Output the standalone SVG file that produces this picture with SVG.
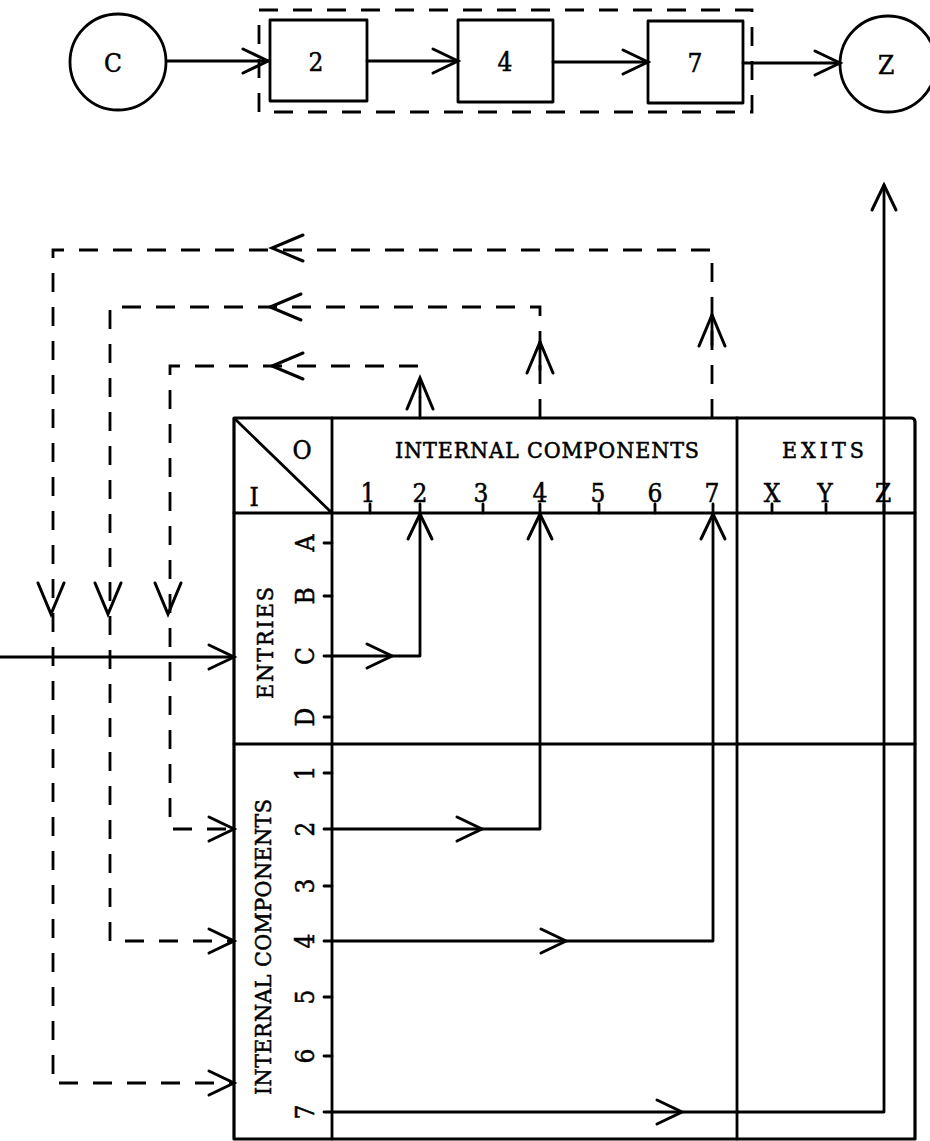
<svg xmlns="http://www.w3.org/2000/svg" xmlns:xlink="http://www.w3.org/1999/xlink" width="930" height="1141" viewBox="0 0 930 1141">
<style>
  .ln{fill:none;stroke:#000;stroke-width:2.8;stroke-linecap:round;stroke-linejoin:round}
  .thick{fill:none;stroke:#000;stroke-width:3.2;stroke-linejoin:round}
  .dash{fill:none;stroke:#000;stroke-width:2.8;stroke-dasharray:19 15}
  .head{fill:none;stroke:#000;stroke-width:3;stroke-linecap:round;stroke-linejoin:miter}
  .t{font-family:"DejaVu Serif Condensed","DejaVu Serif","Liberation Serif",serif;font-stretch:condensed;font-size:26px;fill:#000;stroke:#000;stroke-width:0.5;text-anchor:middle}
  .lbl{font-size:23px}
</style>
<defs>
  <path id="ah" d="M-25,-12 L0,0 L-25,12"/>
  <path id="ahL" d="M-31,-13 L0,0 L-31,13"/>
</defs>
<rect width="930" height="1141" fill="#fff"/>

<!-- top row -->
<g id="nodeC"><circle class="ln" cx="118" cy="62" r="48"/><text class="t" x="113" y="72">C</text></g>
<g id="group"><rect class="dash" x="259" y="10" width="493" height="102"/></g>
<g id="node2"><rect class="ln" x="270" y="20" width="97" height="81"/><text class="t" x="316" y="71">2</text></g>
<g id="node4"><rect class="ln" x="458" y="20" width="95" height="82"/><text class="t" x="505" y="71">4</text></g>
<g id="node7"><rect class="ln" x="648" y="21" width="95" height="82"/><text class="t" x="695" y="72">7</text></g>
<g id="nodeZ"><circle class="ln" cx="888" cy="64" r="48"/><text class="t" x="886" y="74">Z</text></g>

<g id="top-connectors">
  <path class="ln" d="M167,61 H268"/>
  <use href="#ah" class="head" transform="translate(268,61)"/>
  <path class="ln" d="M367,61 H458"/>
  <use href="#ah" class="head" transform="translate(458,61)"/>
  <path class="ln" d="M553,62 H648"/>
  <use href="#ah" class="head" transform="translate(648,62)"/>
  <path class="ln" d="M743,63 H840"/>
  <use href="#ah" class="head" transform="translate(840,63)"/>
</g>

<!-- matrix table -->
<g id="table">
  <path class="thick" d="M234,418 H911 Q915,418 915,422 V1139 H234 Z"/>
  <path class="ln" d="M332,418 V1139 M737,418 V1139 M234,513 H915 M234,744 H915 M236,420 L332,513"/>
  <!-- column ticks -->
  <path class="ln" d="M370,504 V513 M420,504 V513 M483,504 V513 M540,504 V513 M599,504 V513 M655,504 V513 M713,504 V513 M772,504 V513 M826,504 V513 M884,504 V513"/>
  <!-- row ticks -->
  <path class="ln" d="M324,543 H332 M324,596 H332 M324,656 H332 M324,717 H332 M324,773 H332 M324,829 H332 M324,886 H332 M324,941 H332 M324,997 H332 M324,1056 H332 M324,1112 H332"/>
  <text class="t" x="302" y="459">O</text>
  <text class="t" x="254" y="506">I</text>
  <text class="t lbl" x="547" y="458" textLength="304" lengthAdjust="spacing">INTERNAL COMPONENTS</text>
  <text class="t lbl" x="823" y="458" textLength="82" lengthAdjust="spacing">EXITS</text>
  <text class="t" x="368" y="502">1</text>
  <text class="t" x="420" y="502">2</text>
  <text class="t" x="481" y="502">3</text>
  <text class="t" x="540" y="502">4</text>
  <text class="t" x="598" y="502">5</text>
  <text class="t" x="655" y="502">6</text>
  <text class="t" x="712" y="502">7</text>
  <text class="t" x="772" y="502">X</text>
  <text class="t" x="825" y="502">Y</text>
  <text class="t" x="883" y="502">Z</text>
  <text class="t" transform="translate(305,543) rotate(-90)" dy="0.35em">A</text>
  <text class="t" transform="translate(305,596) rotate(-90)" dy="0.35em">B</text>
  <text class="t" transform="translate(305,656) rotate(-90)" dy="0.35em">C</text>
  <text class="t" transform="translate(305,717) rotate(-90)" dy="0.35em">D</text>
  <text class="t" transform="translate(305,773) rotate(-90)" dy="0.35em">1</text>
  <text class="t" transform="translate(305,829) rotate(-90)" dy="0.35em">2</text>
  <text class="t" transform="translate(305,886) rotate(-90)" dy="0.35em">3</text>
  <text class="t" transform="translate(305,941) rotate(-90)" dy="0.35em">4</text>
  <text class="t" transform="translate(305,997) rotate(-90)" dy="0.35em">5</text>
  <text class="t" transform="translate(305,1056) rotate(-90)" dy="0.35em">6</text>
  <text class="t" transform="translate(305,1112) rotate(-90)" dy="0.35em">7</text>
  <text class="t lbl" transform="translate(265,643) rotate(-90)" dy="0.35em" textLength="112" lengthAdjust="spacing">ENTRIES</text>
  <text class="t lbl" transform="translate(263,947) rotate(-90)" dy="0.35em" textLength="296" lengthAdjust="spacing">INTERNAL COMPONENTS</text>
</g>

<g id="connectors">
  <!-- solid internal paths -->
  <path class="ln" d="M332,656 H420 V513"/>
  <use href="#ah" class="head" transform="translate(392,656)"/>
  <use href="#ah" class="head" transform="translate(420,514) rotate(-90)"/>
  <path class="ln" d="M332,829 H540 V513"/>
  <use href="#ah" class="head" transform="translate(482,829)"/>
  <use href="#ah" class="head" transform="translate(540,514) rotate(-90)"/>
  <path class="ln" d="M332,941 H713 V513"/>
  <use href="#ah" class="head" transform="translate(566,941)"/>
  <use href="#ah" class="head" transform="translate(713,514) rotate(-90)"/>
  <path class="ln" d="M332,1112 H884 V185"/>
  <use href="#ah" class="head" transform="translate(682,1112)"/>
  <use href="#ah" class="head" transform="translate(884,185) rotate(-90)"/>
  <!-- entry C from outside -->
  <path class="ln" d="M0,657 H234"/>
  <use href="#ah" class="head" transform="translate(234,657)"/>

  <!-- feedback loops (dashed) -->
  <path class="ln" d="M420,418 V398"/>
  <path class="dash" d="M420,398 V366 H170 V829 H234"/>
  <use href="#ahL" class="head" transform="translate(420,378) rotate(-90)"/>
  <use href="#ahL" class="head" transform="translate(272,366) rotate(180)"/>
  <use href="#ahL" class="head" transform="translate(168,614) rotate(90)"/>
  <use href="#ah" class="head" transform="translate(234,829)"/>

  <path class="dash" d="M540,418 V307 H110 V941 H234"/>
  <path class="ln" d="M540,342 V370"/>
  <use href="#ahL" class="head" transform="translate(540,342) rotate(-90)"/>
  <use href="#ahL" class="head" transform="translate(270,307) rotate(180)"/>
  <use href="#ahL" class="head" transform="translate(108,614) rotate(90)"/>
  <use href="#ah" class="head" transform="translate(234,941)"/>

  <path class="dash" d="M712,418 V250 H53 V1083 H234"/>
  <path class="ln" d="M712,315 V345"/>
  <use href="#ahL" class="head" transform="translate(712,315) rotate(-90)"/>
  <use href="#ahL" class="head" transform="translate(272,248) rotate(180)"/>
  <use href="#ahL" class="head" transform="translate(51,614) rotate(90)"/>
  <use href="#ah" class="head" transform="translate(234,1083)"/>
</g>
</svg>
